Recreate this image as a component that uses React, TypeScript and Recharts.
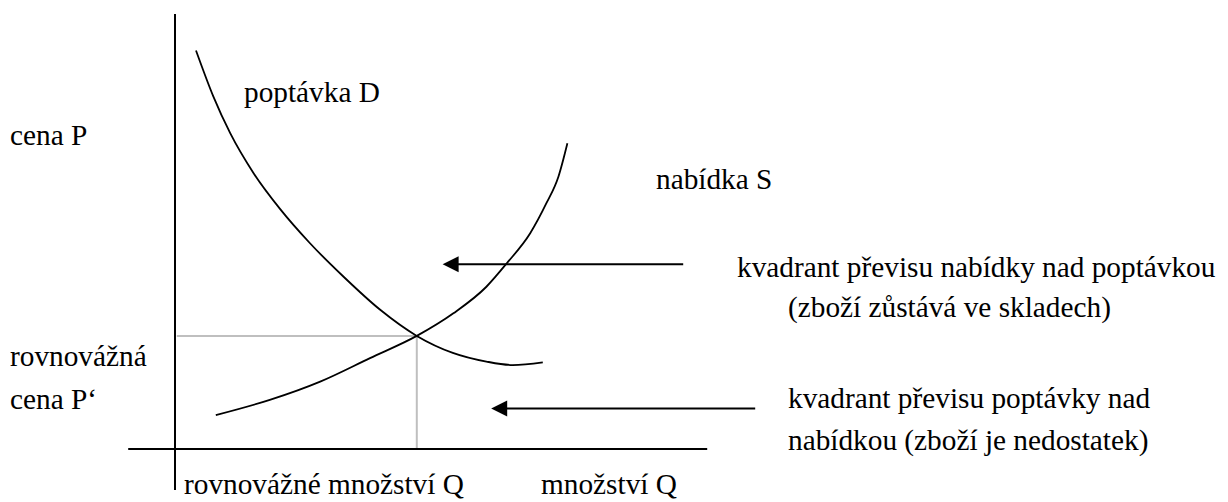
import {
  LineChart,
  Line,
  XAxis,
  YAxis,
  ReferenceLine,
  ReferenceDot,
  Customized,
} from "recharts"

// Demand curve D: quantity Q, price P
const demandQ = [3.5, 6.4, 9.2, 13.1, 17.5, 22.5, 28.1, 34.2, 40.3, 46.3, 51.9, 56.3, 61.3]
const demandP = [91.6, 81.0, 72.6, 63.4, 55.2, 47.3, 39.6, 32.0, 26.0, 22.1, 20.1, 19.3, 19.9]

// Supply curve S
const supplyQ = [6.8, 15.8, 24.2, 32.5, 40.3, 46.4, 51.9, 55.3, 59.2, 61.9, 63.9, 65.4]
const supplyP = [7.8, 11.3, 15.5, 20.9, 26.0, 31.2, 37.3, 42.7, 49.6, 56.5, 62.6, 70.3]

// Equilibrium Q, P'
const eqQ = 40.3
const eqP = 26.0

// Arrows pointing into the two quadrants: start Q, tip Q, level P
const arrowFrom = [84.7, 96.7]
const arrowTo = [44.6, 52.7]
const arrowP = [42.5, 9.3]

const demand = demandQ.map((q, i) => ({ q, p: demandP[i] }))
const supply = supplyQ.map((q, i) => ({ q, p: supplyP[i] }))

const FONT = "'Liberation Serif', 'Times New Roman', Times, serif"

const labels = [
  { text: "poptávka D", x: 244, y: 102 },
  { text: "cena P", x: 10, y: 145 },
  { text: "nabídka S", x: 656, y: 189 },
  { text: "kvadrant převisu nabídky nad poptávkou", x: 737, y: 277 },
  { text: "(zboží zůstává ve skladech)", x: 788, y: 317 },
  { text: "rovnovážná", x: 10, y: 366 },
  { text: "cena P‘", x: 10, y: 409 },
  { text: "kvadrant převisu poptávky nad", x: 788, y: 408 },
  { text: "nabídkou (zboží je nedostatek)", x: 788, y: 450 },
  { text: "rovnovážné množství Q", x: 184, y: 494 },
  { text: "množství Q", x: 541, y: 494 },
]

function LabelLayer() {
  return (
    <g style={{ fontFamily: FONT, fontSize: 29.3 }}>
      {labels.map((l) => (
        <text key={l.text} x={l.x} y={l.y} fill="#000" style={{ fontFamily: FONT }}>
          {l.text}
        </text>
      ))}
    </g>
  )
}

const ArrowHead = (props: any) => {
  const { cx, cy } = props
  return <path d={`M${cx},${cy} L${cx + 16},${cy - 8} L${cx + 16},${cy + 8} Z`} fill="#000" />
}

export default function App() {
  return (
    <div style={{ position: "absolute", left: 0, top: 0, width: 1228, height: 502, background: "#fff" }}>
      <LineChart
        width={1228}
        height={502}
        margin={{ top: 14, right: 453, bottom: 9.5, left: 115 }}
      >
        <XAxis type="number" dataKey="q" domain={[-10, 100]} hide allowDataOverflow />
        <YAxis type="number" dataKey="p" domain={[-10, 100]} hide allowDataOverflow />

        {/* equilibrium guides */}
        <ReferenceLine
          segment={[{ x: 0.3, y: eqP }, { x: eqQ, y: eqP }]}
          stroke="#bfbfbf"
          strokeWidth={2}
          ifOverflow="visible"
        />
        <ReferenceLine
          segment={[{ x: eqQ, y: eqP }, { x: eqQ, y: 0 }]}
          stroke="#bfbfbf"
          strokeWidth={2}
          ifOverflow="visible"
        />

        {/* axes */}
        <ReferenceLine segment={[{ x: 0, y: -9.4 }, { x: 0, y: 100 }]} stroke="#000" strokeWidth={2} ifOverflow="visible" />
        <ReferenceLine segment={[{ x: -7.8, y: 0 }, { x: 88.7, y: 0 }]} stroke="#000" strokeWidth={2} ifOverflow="visible" />

        <Line
          data={demand}
          dataKey="p"
          type="monotone"
          stroke="#000"
          strokeWidth={1.8}
          dot={false}
          isAnimationActive={false}
        />
        <Line
          data={supply}
          dataKey="p"
          type="monotone"
          stroke="#000"
          strokeWidth={1.8}
          dot={false}
          isAnimationActive={false}
        />

        {arrowFrom.map((from, i) => (
          <ReferenceLine
            key={"a" + i}
            segment={[{ x: from, y: arrowP[i] }, { x: arrowTo[i] + 2, y: arrowP[i] }]}
            stroke="#000"
            strokeWidth={2}
            ifOverflow="visible"
          />
        ))}
        {arrowTo.map((to, i) => (
          <ReferenceDot key={"h" + i} x={to} y={arrowP[i]} r={0} shape={ArrowHead} ifOverflow="visible" />
        ))}

        <Customized component={LabelLayer} />
      </LineChart>
    </div>
  )
}
